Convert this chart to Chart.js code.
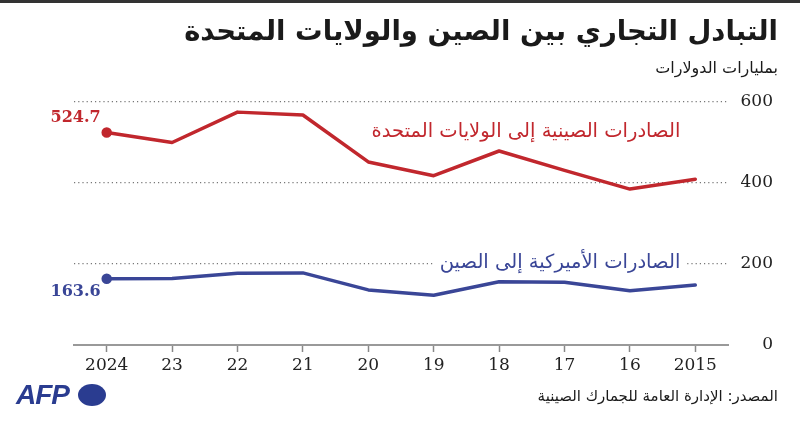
<!DOCTYPE html>
<html lang="ar">
<head>
<meta charset="utf-8">
<script src="https://cdn.jsdelivr.net/npm/chart.js@4/dist/chart.umd.min.js"></script>
<style>
  body { margin: 0; background: #fff; }
  #wrap { position: relative; width: 800px; height: 426px; overflow: hidden; background: #fff; }
  #barre { position: absolute; left: 0; top: 0; width: 800px; height: 3px; background: #333; }
  canvas { position: absolute; left: 0; top: 0; }
  .txt { position: absolute; direction: rtl; white-space: nowrap; font-family: "DejaVu Sans", sans-serif; color: #1a1a1a; }
  #titre { right: 22px; top: 14px; font-size: 27.5px; font-weight: bold; }
  #sous { right: 22px; top: 58px; font-size: 16px; }
  #source { right: 22px; top: 387px; font-size: 15px; }
  #afp { position: absolute; left: 16px; top: 379px; font-family: "Liberation Sans", sans-serif; font-weight: bold; font-style: italic; font-size: 28px; color: #2a3c90; letter-spacing: -1px; }
  #rond { position: absolute; left: 78px; top: 384px; width: 28px; height: 22px; border-radius: 50%; background: #2a3c90; }
</style>
</head>
<body>
<div id="wrap">
  <div id="barre"></div>
  <canvas id="grafico" width="800" height="426"></canvas>
  <div class="txt" id="titre">التبادل التجاري بين الصين والولايات المتحدة</div>
  <div class="txt" id="sous">بمليارات الدولارات</div>
  <div class="txt" id="source">المصدر: الإدارة العامة للجمارك الصينية</div>
  <div id="afp">AFP</div>
  <div id="rond"></div>
</div>
<script>
// dados (anos do mais recente ao mais antigo, como no original)
const anos = ['2024', '23', '22', '21', '20', '19', '18', '17', '16', '2015'];
const exportChinaEUA = [524.7, 500, 575, 568, 452, 418, 479, 431, 385, 409];
const exportEUAChina = [163.6, 164, 177, 178, 136, 123, 156, 155, 134, 148];
const ticksY = [0, 200, 400, 600];

const nomeChina = 'الصادرات الصينية إلى الولايات المتحدة';
const nomeEUA = 'الصادرات الأميركية إلى الصين';

const vermelho = '#c1272d';
const azul = '#3a4697';

// plugin para os rótulos de valor e nomes das séries
const rotulos = {
  id: 'rotulos',
  afterDatasetsDraw(chart) {
    const ctx = chart.ctx;
    const x = chart.scales.x;
    const y = chart.scales.y;
    const p0 = chart.getDatasetMeta(0).data[0];
    const p1 = chart.getDatasetMeta(1).data[0];

    ctx.save();
    ctx.font = 'bold 16px "DejaVu Serif", serif';
    ctx.textAlign = 'right';
    ctx.textBaseline = 'middle';
    ctx.fillStyle = vermelho;
    ctx.fillText(exportChinaEUA[0].toFixed(1), p0.x - 6, p0.y - 15);
    ctx.fillStyle = azul;
    ctx.fillText(exportEUAChina[0].toFixed(1), p1.x - 6, p1.y + 13);

    // nomes das séries, alinhados à direita
    const xd = x.getPixelForValue(anos.length - 1) - 15;
    ctx.font = '19.5px "DejaVu Sans", sans-serif';
    ctx.direction = 'rtl';
    ctx.textAlign = 'right';

    ctx.fillStyle = vermelho;
    ctx.fillText(nomeChina, xd, y.getPixelForValue(526));

    const yb = y.getPixelForValue(202);
    const w = ctx.measureText(nomeEUA).width;
    ctx.fillStyle = '#fff';
    ctx.fillRect(xd - w - 6, yb - 12, w + 12, 24);
    ctx.fillStyle = azul;
    ctx.fillText(nomeEUA, xd, yb);
    ctx.restore();
  }
};

const ctx = document.getElementById('grafico').getContext('2d');

const grafico = new Chart(ctx, {
  type: 'line',
  data: {
    labels: anos,
    datasets: [{
      data: exportChinaEUA,
      borderColor: vermelho,
      backgroundColor: vermelho,
      borderWidth: 3.5,
      tension: 0,
      borderJoinStyle: 'round',
      borderCapStyle: 'round',
      pointRadius: c => c.dataIndex === 0 ? 3.5 : 0
    }, {
      data: exportEUAChina,
      borderColor: azul,
      backgroundColor: azul,
      borderWidth: 3.5,
      tension: 0,
      borderJoinStyle: 'round',
      borderCapStyle: 'round',
      pointRadius: c => c.dataIndex === 0 ? 3.5 : 0
    }]
  },
  options: {
    responsive: false,
    animation: false,
    layout: { padding: { top: 102, left: 74, right: 27, bottom: 51 } },
    plugins: { legend: { display: false }, tooltip: { enabled: false } },
    scales: {
      x: {
        offset: true,
        afterFit: s => { s.height = 30; },
        grid: { drawOnChartArea: false, drawTicks: true, tickLength: 7, tickColor: '#888', tickWidth: 1.5 },
        border: { display: true, color: '#999', width: 2 },
        ticks: {
          autoSkip: false, maxRotation: 0, padding: 3, color: '#222',
          font: { family: '"DejaVu Serif", serif', size: 17 }
        }
      },
      y: {
        position: 'right',
        min: 0,
        max: 600,
        afterFit: s => { s.width = 45; },
        afterBuildTicks: s => { s.ticks = ticksY.map(v => ({ value: v })); },
        grid: {
          drawTicks: false,
          lineWidth: 1.2,
          color: c => c.tick && c.tick.value === 0 ? 'rgba(0,0,0,0)' : '#777'
        },
        border: { display: false, dash: [1.2, 3] },
        ticks: {
          crossAlign: 'far', padding: 0, color: '#222',
          font: { family: '"DejaVu Serif", serif', size: 17 }
        }
      }
    }
  },
  plugins: [rotulos]
});
</script>
</body>
</html>
